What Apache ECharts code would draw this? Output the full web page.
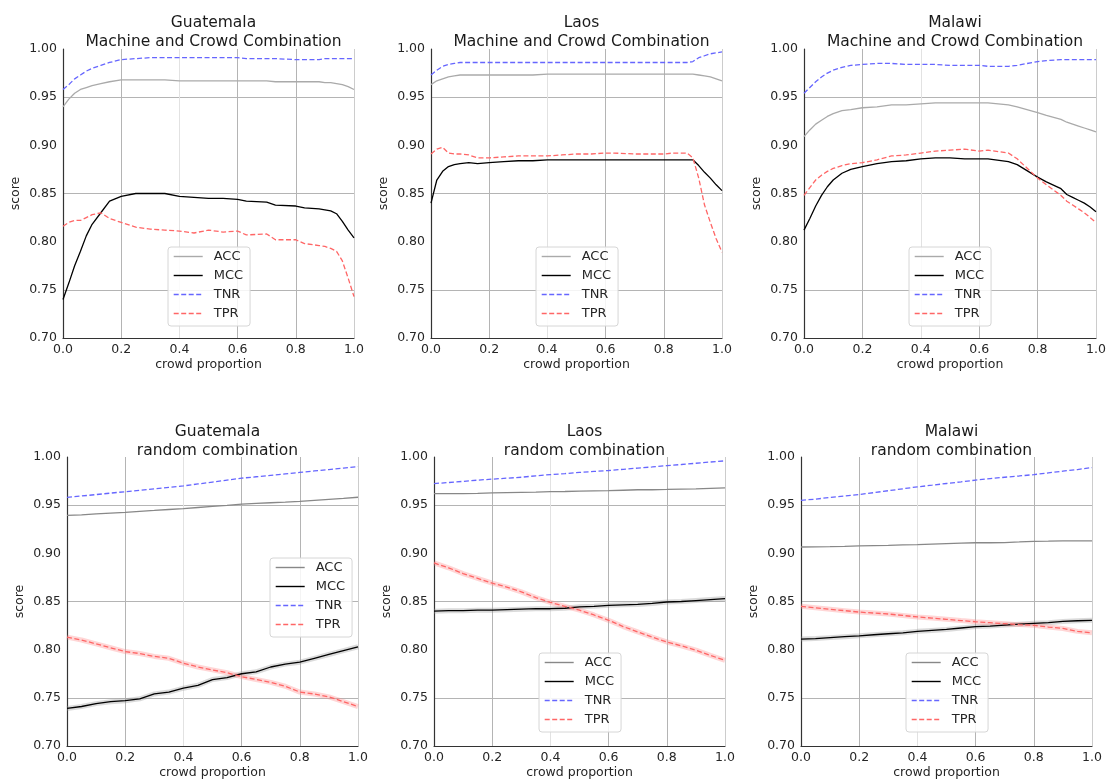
<!DOCTYPE html>
<html><head><meta charset="utf-8">
<script src="https://cdn.jsdelivr.net/npm/echarts@6/dist/echarts.min.js"></script>
<style>html,body{margin:0;padding:0;background:#fff}#c{width:1110px;height:782px}</style>
</head><body><div id="c"></div>
<script>
// ---------- DATA ----------
const countries = ['Guatemala', 'Laos', 'Malawi'];
const rowTitles = ['Machine and Crowd Combination', 'random combination'];
const metrics = ['ACC', 'MCC', 'TNR', 'TPR'];
const xAxisName = 'crowd proportion';
const yAxisName = 'score';

// top row x positions
const xTop = [0, 0.02, 0.04, 0.06, 0.08, 0.1, 0.13, 0.16, 0.2, 0.25, 0.3, 0.35, 0.4, 0.45, 0.5, 0.55, 0.6, 0.63, 0.7, 0.73, 0.8, 0.83, 0.88, 0.9, 0.92, 0.94, 0.96, 0.98, 1.0];

const guatemalaTopACC = [0.940, 0.948, 0.954, 0.958, 0.960, 0.962, 0.964, 0.966, 0.968, 0.968, 0.968, 0.968, 0.967, 0.967, 0.967, 0.967, 0.967, 0.967, 0.967, 0.966, 0.966, 0.966, 0.966, 0.965, 0.965, 0.964, 0.963, 0.961, 0.958];
const guatemalaTopMCC = [0.740, 0.757, 0.775, 0.790, 0.806, 0.818, 0.830, 0.842, 0.847, 0.850, 0.850, 0.850, 0.847, 0.846, 0.845, 0.845, 0.844, 0.842, 0.841, 0.838, 0.837, 0.835, 0.834, 0.833, 0.832, 0.829, 0.821, 0.812, 0.804];
const guatemalaTopTNR = [0.958, 0.963, 0.969, 0.973, 0.977, 0.980, 0.983, 0.986, 0.989, 0.990, 0.991, 0.991, 0.991, 0.991, 0.991, 0.991, 0.991, 0.990, 0.990, 0.990, 0.989, 0.989, 0.989, 0.990, 0.990, 0.990, 0.990, 0.990, 0.990];
const guatemalaTopTPR = [0.816, 0.820, 0.822, 0.822, 0.825, 0.828, 0.830, 0.824, 0.820, 0.815, 0.813, 0.812, 0.811, 0.809, 0.812, 0.810, 0.811, 0.807, 0.808, 0.802, 0.802, 0.798, 0.796, 0.795, 0.793, 0.790, 0.780, 0.762, 0.743];

const laosTopACC = [0.963, 0.967, 0.969, 0.971, 0.972, 0.973, 0.973, 0.973, 0.973, 0.973, 0.973, 0.973, 0.974, 0.974, 0.974, 0.974, 0.974, 0.974, 0.974, 0.974, 0.974, 0.974, 0.974, 0.974, 0.973, 0.972, 0.971, 0.969, 0.967];
const laosTopMCC = [0.840, 0.864, 0.873, 0.878, 0.880, 0.881, 0.882, 0.881, 0.882, 0.883, 0.884, 0.884, 0.885, 0.885, 0.885, 0.885, 0.885, 0.885, 0.885, 0.885, 0.885, 0.885, 0.885, 0.885, 0.879, 0.872, 0.866, 0.859, 0.853];
const laosTopTNR = [0.973, 0.978, 0.982, 0.984, 0.985, 0.986, 0.986, 0.986, 0.986, 0.986, 0.986, 0.986, 0.986, 0.986, 0.986, 0.986, 0.986, 0.986, 0.986, 0.986, 0.986, 0.986, 0.986, 0.987, 0.991, 0.993, 0.995, 0.996, 0.997];
const laosTopTPR = [0.891, 0.896, 0.898, 0.892, 0.891, 0.891, 0.890, 0.887, 0.887, 0.888, 0.889, 0.889, 0.889, 0.890, 0.891, 0.891, 0.892, 0.892, 0.891, 0.891, 0.891, 0.892, 0.892, 0.887, 0.866, 0.838, 0.820, 0.803, 0.789];

const malawiTopACC = [0.909, 0.916, 0.922, 0.926, 0.930, 0.933, 0.936, 0.937, 0.939, 0.940, 0.942, 0.942, 0.943, 0.944, 0.944, 0.944, 0.944, 0.944, 0.942, 0.940, 0.934, 0.931, 0.927, 0.924, 0.922, 0.920, 0.918, 0.916, 0.914];
const malawiTopMCC = [0.812, 0.824, 0.837, 0.848, 0.857, 0.864, 0.871, 0.875, 0.878, 0.881, 0.883, 0.884, 0.886, 0.887, 0.887, 0.886, 0.886, 0.886, 0.883, 0.880, 0.867, 0.862, 0.855, 0.849, 0.846, 0.843, 0.840, 0.836, 0.831];
const malawiTopTNR = [0.954, 0.960, 0.966, 0.971, 0.975, 0.978, 0.981, 0.983, 0.984, 0.985, 0.985, 0.984, 0.984, 0.984, 0.983, 0.983, 0.983, 0.982, 0.982, 0.983, 0.987, 0.988, 0.989, 0.989, 0.989, 0.989, 0.989, 0.989, 0.989];
const malawiTopTPR = [0.848, 0.856, 0.864, 0.869, 0.873, 0.876, 0.879, 0.881, 0.882, 0.885, 0.889, 0.890, 0.892, 0.894, 0.895, 0.896, 0.894, 0.895, 0.892, 0.886, 0.866, 0.859, 0.848, 0.842, 0.838, 0.834, 0.830, 0.825, 0.820];

// bottom row x positions
const xBottom = [0, 0.05, 0.1, 0.15, 0.2, 0.25, 0.3, 0.35, 0.4, 0.45, 0.5, 0.55, 0.6, 0.65, 0.7, 0.75, 0.8, 0.85, 0.9, 0.95, 1.0];

const guatemalaRndACC = [0.9395, 0.9400, 0.9410, 0.9418, 0.9426, 0.9436, 0.9445, 0.9455, 0.9465, 0.9476, 0.9487, 0.9498, 0.9510, 0.9518, 0.9525, 0.9532, 0.9540, 0.9550, 0.9560, 0.9570, 0.9582];
const guatemalaRndMCC = [0.739, 0.741, 0.744, 0.746, 0.747, 0.749, 0.754, 0.756, 0.760, 0.763, 0.769, 0.771, 0.775, 0.777, 0.782, 0.785, 0.787, 0.791, 0.795, 0.799, 0.803];
const guatemalaRndTNR = [0.958, 0.9595, 0.961, 0.9625, 0.964, 0.9655, 0.967, 0.9685, 0.970, 0.972, 0.974, 0.976, 0.978, 0.9795, 0.981, 0.9825, 0.984, 0.9855, 0.987, 0.9885, 0.990];
const guatemalaRndTPR = [0.813, 0.810, 0.806, 0.802, 0.798, 0.796, 0.793, 0.791, 0.786, 0.782, 0.779, 0.776, 0.772, 0.769, 0.766, 0.762, 0.756, 0.754, 0.751, 0.746, 0.741];

const laosRndACC = [0.962, 0.962, 0.962, 0.9623, 0.9627, 0.963, 0.9633, 0.9635, 0.964, 0.9642, 0.9645, 0.9648, 0.965, 0.9655, 0.966, 0.966, 0.9663, 0.9667, 0.967, 0.9675, 0.968];
const laosRndMCC = [0.840, 0.8405, 0.8405, 0.841, 0.841, 0.8415, 0.842, 0.8425, 0.8425, 0.843, 0.8445, 0.845, 0.846, 0.8465, 0.847, 0.848, 0.8495, 0.850, 0.851, 0.852, 0.853];
const laosRndTNR = [0.9724, 0.9735, 0.9747, 0.976, 0.977, 0.978, 0.979, 0.9805, 0.9817, 0.9828, 0.984, 0.985, 0.986, 0.9872, 0.9885, 0.9897, 0.991, 0.9922, 0.9935, 0.9948, 0.996];
const laosRndTPR = [0.890, 0.885, 0.879, 0.874, 0.869, 0.865, 0.860, 0.854, 0.849, 0.845, 0.841, 0.836, 0.8305, 0.824, 0.8185, 0.813, 0.808, 0.804, 0.7995, 0.794, 0.789];

const malawiRndACC = [0.9066, 0.9068, 0.907, 0.9073, 0.9077, 0.908, 0.9083, 0.9087, 0.909, 0.9095, 0.910, 0.9105, 0.911, 0.911, 0.9112, 0.9118, 0.9125, 0.9127, 0.913, 0.913, 0.913];
const malawiRndMCC = [0.811, 0.8115, 0.8125, 0.8135, 0.8144, 0.8155, 0.8165, 0.8175, 0.819, 0.820, 0.821, 0.8225, 0.824, 0.8245, 0.8255, 0.8265, 0.8273, 0.828, 0.8293, 0.830, 0.8305];
const malawiRndTNR = [0.955, 0.9563, 0.958, 0.9595, 0.961, 0.963, 0.965, 0.967, 0.969, 0.9707, 0.9725, 0.9742, 0.976, 0.9775, 0.979, 0.9803, 0.9817, 0.9835, 0.9853, 0.987, 0.989];
const malawiRndTPR = [0.845, 0.8435, 0.842, 0.8405, 0.839, 0.838, 0.837, 0.8355, 0.834, 0.8328, 0.8315, 0.8302, 0.829, 0.828, 0.827, 0.826, 0.8253, 0.8235, 0.822, 0.819, 0.8175];

// ---------- LAYOUT / STYLE ----------
const FONT = 'DejaVu Sans';
const TXT = '#262626';
const panels = [
  {x: xTop, d: [guatemalaTopACC, guatemalaTopMCC, guatemalaTopTNR, guatemalaTopTPR], c: 0, r: 0},
  {x: xTop, d: [laosTopACC, laosTopMCC, laosTopTNR, laosTopTPR], c: 1, r: 0},
  {x: xTop, d: [malawiTopACC, malawiTopMCC, malawiTopTNR, malawiTopTPR], c: 2, r: 0},
  {x: xBottom, d: [guatemalaRndACC, guatemalaRndMCC, guatemalaRndTNR, guatemalaRndTPR], c: 0, r: 1},
  {x: xBottom, d: [laosRndACC, laosRndMCC, laosRndTNR, laosRndTPR], c: 1, r: 1},
  {x: xBottom, d: [malawiRndACC, malawiRndMCC, malawiRndTNR, malawiRndTPR], c: 2, r: 1}
];
const gridBoxes = [
  {left: 63, top: 49, width: 291, height: 289},
  {left: 431, top: 49, width: 291, height: 289},
  {left: 804, top: 49, width: 292, height: 289},
  {left: 67, top: 457, width: 291, height: 289},
  {left: 434, top: 457, width: 291, height: 289},
  {left: 801, top: 457, width: 291, height: 289}
];
const legendPos = [
  {left: 168, top: 247}, {left: 536, top: 247}, {left: 909, top: 247},
  {left: 270, top: 558}, {left: 539, top: 653}, {left: 906, top: 653}
];
const titleTops = [8, 417];
const colorsTop = ['#aaaaaa', '#000000', '#6666ff', '#ff6666'];
const colorsBot = ['#888888', '#000000', '#6666ff', '#ff6666'];
const dashed = [5, 2.5];

const option = {
  animation: false,
  backgroundColor: '#ffffff',
  textStyle: {fontFamily: FONT},
  title: [], grid: [], xAxis: [], yAxis: [], legend: [], series: []
};

panels.forEach((p, i) => {
  const g = gridBoxes[i];
  option.grid.push(Object.assign({containLabel: false}, g));
  option.title.push({
    text: countries[p.c] + '\n' + rowTitles[p.r],
    left: g.left + g.width / 2, top: titleTops[p.r], textAlign: 'center',
    textStyle: {fontFamily: FONT, fontSize: 15.5, fontWeight: 'normal', color: '#1a1a1a', lineHeight: 19}
  });
  option.xAxis.push({
    type: 'value', gridIndex: i, min: 0, max: 1, interval: 0.2,
    name: xAxisName, nameLocation: 'middle', nameGap: 20,
    nameTextStyle: {fontFamily: FONT, fontSize: 12.5, color: TXT},
    axisLine: {show: true, lineStyle: {color: '#333', width: 1.2}},
    axisTick: {show: false},
    axisLabel: {fontFamily: FONT, fontSize: 12.5, color: TXT, margin: 5, formatter: v => v.toFixed(1)},
    splitLine: {show: true, lineStyle: {color: ['transparent', '#b4b4b4', '#e2e2e2', '#b4b4b4', '#b4b4b4', '#cccccc'], width: 1}}
  });
  option.yAxis.push({
    type: 'value', gridIndex: i, min: 0.7, max: 1.0, interval: 0.05,
    name: yAxisName, nameLocation: 'middle', nameGap: 41,
    nameTextStyle: {fontFamily: FONT, fontSize: 12.5, color: TXT},
    axisLine: {show: true, lineStyle: {color: '#333', width: 1.2}},
    axisTick: {show: false},
    axisLabel: {fontFamily: FONT, fontSize: 12.5, color: TXT, margin: 6, formatter: v => v.toFixed(2)},
    splitLine: {show: true, lineStyle: {color: ['transparent', '#b4b4b4'], width: 1}}
  });
  const cols = p.r === 0 ? colorsTop : colorsBot;
  option.legend.push({
    show: true,
    orient: 'vertical', left: legendPos[i].left, top: legendPos[i].top,
    itemWidth: 29, itemHeight: 14, itemGap: 6,
    padding: [3, 7, 6, 5],
    backgroundColor: 'rgba(255,255,255,0.85)', borderColor: '#d6d6d6', borderWidth: 1, borderRadius: 3,
    textStyle: {fontFamily: FONT, fontSize: 13, color: TXT, padding: [0, 0, 0, 6]},
    selectedMode: false,
    itemStyle: {opacity: 0},
    data: metrics.map((m, k) => ({
      name: m,
      itemStyle: {opacity: 0},
      lineStyle: {color: cols[k], width: 1.4}
    }))
  });
  metrics.forEach((m, k) => {
    const pts = p.x.map((x, j) => [x, p.d[k][j]]);
    if (p.r === 1 && (k === 1 || k === 3)) {
      option.series.push({
        type: 'line', name: m + ' band', xAxisIndex: i, yAxisIndex: i, data: pts,
        symbol: 'none', silent: true, z: 1,
        lineStyle: {color: k === 1 ? '#999999' : '#ff8a8a', width: 5, opacity: 0.35}
      });
    }
    option.series.push({
      type: 'line', name: m, xAxisIndex: i, yAxisIndex: i, data: pts,
      symbol: 'none', z: 2 + k,
      itemStyle: {color: cols[k]},
      lineStyle: {color: cols[k], width: 1.3, type: k >= 2 ? dashed : 'solid'}
    });
  });
});

const chart = echarts.init(document.getElementById('c'), null, {renderer: 'canvas'});
chart.setOption(option);
</script>
</body></html>
